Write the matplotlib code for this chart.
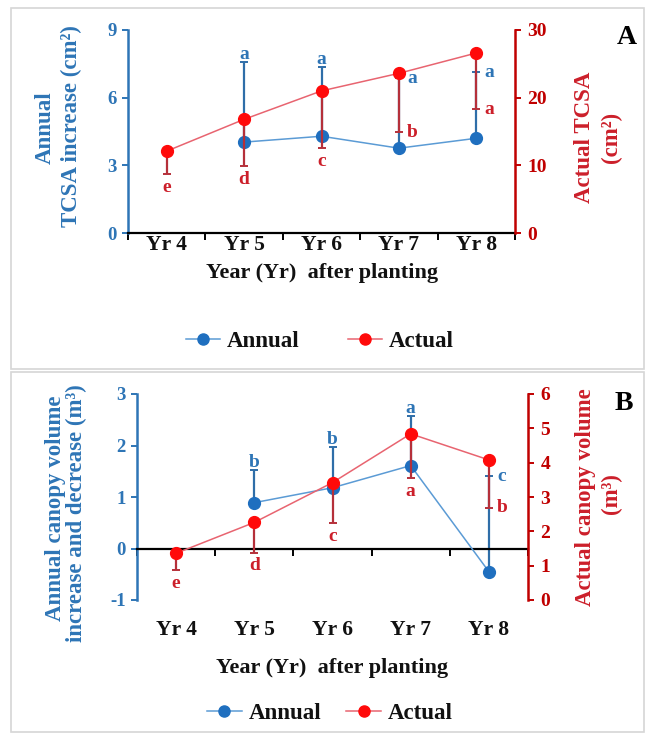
import matplotlib
matplotlib.use("Agg")
import matplotlib.pyplot as plt
from matplotlib.patches import Rectangle
from matplotlib.lines import Line2D
import matplotlib.transforms as mtransforms
import numpy as np

# ---------------- data ----------------
years = ["Yr 4", "Yr 5", "Yr 6", "Yr 7", "Yr 8"]

# Panel A: TCSA
a_annual = [np.nan, 4.03, 4.29, 3.76, 4.20]          # left axis (cm2)
a_annual_up = [np.nan, 7.57, 7.35, 6.85, 7.12]       # upper end of error bar
a_actual = [12.1, 16.8, 21.0, 23.6, 26.6]            # right axis (cm2)
a_actual_lo = [8.7, 9.9, 12.6, 14.9, 18.3]           # lower end of error bar
a_annual_letters = ["", "a", "a", "a", "a"]
a_actual_letters = ["e", "d", "c", "b", "a"]

# Panel B: canopy volume
b_annual = [np.nan, 0.89, 1.18, 1.61, -0.45]         # left axis (m3)
b_annual_up = [np.nan, 1.52, 1.97, 2.57, 1.40]
b_actual = [1.36, 2.26, 3.42, 4.84, 4.08]            # right axis (m3)
b_actual_lo = [0.87, 1.38, 2.25, 3.54, 2.69]
b_annual_letters = ["", "b", "b", "a", "c"]
b_actual_letters = ["e", "d", "c", "a", "b"]

# ---------------- style ----------------
FONT = "Liberation Serif"
BLUE_AX = "#2E75B6"
BLUE_MK = "#1F6FBF"
BLUE_LN = "#5B9BD5"
BLUE_ERR = "#2F6EA8"
RED_AX = "#C00000"
RED_MK = "#FF0A0A"
RED_LN = "#E86470"
RED_ERR = "#B5303A"
RED_TXT = "#CC1F2A"
LABEL_FS = 16.5

plt.rcParams["font.family"] = [FONT, "DejaVu Serif"]
plt.rcParams["font.weight"] = "bold"
plt.rcParams["axes.unicode_minus"] = False

W, H = 646, 733
fig = plt.figure(figsize=(W / 100, H / 100), dpi=100)


def fx(px):
    return px / W


def fy(py):
    return 1 - py / H


# panel frames
fig.patches.append(Rectangle((fx(11), fy(369)), fx(633), 361 / H, transform=fig.transFigure,
                             fill=False, edgecolor="#d6d6d6", lw=1.2))
fig.patches.append(Rectangle((fx(11), fy(732)), fx(633), 360 / H, transform=fig.transFigure,
                             fill=False, edgecolor="#d6d6d6", lw=1.2))


def letter(ax, x, y, s, pos, color):
    if not s:
        return
    if pos == "above":
        off, ha, va = (0, 2.5), "center", "baseline"
    elif pos == "below":
        off, ha, va = (0, -3.5), "center", "top"
    else:
        off, ha, va = (6, 0), "left", "center"
    ax.annotate(s, (x, y), xytext=off, textcoords="offset points", ha=ha, va=va,
                color=color, fontsize=14, fontweight="bold")


def vlabel(px, py, s, color):
    fig.text(fx(px), fy(py), s, rotation=90, ha="center", va="center",
             fontsize=LABEL_FS, fontweight="bold", color=color)


def panel(rect, annual, annual_up, actual, actual_lo, ann_let, act_let,
          ann_pos, act_pos, lylim, lyticks, rylim, ryticks, zero_axis):
    ax = fig.add_axes(rect)
    ax2 = ax.twinx()
    x = np.arange(len(years))
    ann = np.array(annual, float)
    act = np.array(actual, float)
    up = np.array(annual_up, float) - ann
    lo = act - np.array(actual_lo, float)

    ax.errorbar(x, ann, yerr=[np.zeros_like(up), up], fmt="none", ecolor=BLUE_ERR,
                elinewidth=1.6, capsize=3, capthick=1.4, zorder=2)
    ax.plot(x, ann, color=BLUE_LN, lw=1.1, marker="o", ms=8.5, mfc=BLUE_MK,
            mec=BLUE_MK, zorder=3)
    ax2.errorbar(x, act, yerr=[lo, np.zeros_like(lo)], fmt="none", ecolor=RED_ERR,
                 elinewidth=1.6, capsize=3, capthick=1.4, zorder=2)
    ax2.plot(x, act, color=RED_LN, lw=1.1, marker="o", ms=8.5, mfc=RED_MK,
             mec=RED_MK, zorder=3)

    for i in range(len(years)):
        if not np.isnan(ann[i]):
            letter(ax, x[i], annual_up[i], ann_let[i], ann_pos[i], BLUE_AX)
        letter(ax2, x[i], actual_lo[i], act_let[i], act_pos[i], RED_TXT)

    ax.set_xlim(-0.5, len(years) - 0.5)
    ax.set_ylim(*lylim)
    ax.set_yticks(lyticks)
    ax2.set_ylim(*rylim)
    ax2.set_yticks(ryticks)

    ax.set_xticks(np.arange(len(years) + 1) - 0.5)
    ax.set_xticklabels([])
    ax.tick_params(axis="x", which="major", length=5, width=1.4, color="black",
                   direction="out")
    ax.tick_params(axis="y", length=4, width=1.4, color=BLUE_AX, labelcolor=BLUE_AX,
                   labelsize=13.5, pad=4)
    ax2.tick_params(axis="y", length=4, width=1.4, color=RED_AX, labelcolor=RED_AX,
                    labelsize=14, pad=5)
    for lab in ax.get_yticklabels() + ax2.get_yticklabels():
        lab.set_fontweight("bold")

    for sp in ("top", "right"):
        ax.spines[sp].set_visible(False)
    for sp in ("top", "left", "bottom"):
        ax2.spines[sp].set_visible(False)
    ax.spines["left"].set_color(BLUE_AX)
    ax.spines["left"].set_linewidth(1.8)
    ax.spines["bottom"].set_color("black")
    ax.spines["bottom"].set_linewidth(1.6)
    ax2.spines["right"].set_color(RED_AX)
    ax2.spines["right"].set_linewidth(1.8)
    if zero_axis:
        ax.spines["bottom"].set_position(("data", 0))
    ax.patch.set_visible(False)

    trans = mtransforms.blended_transform_factory(ax.transData, ax.transAxes)
    return ax, ax2, trans


# ---------------- Panel A ----------------
axA, axA2, trA = panel([fx(128), fy(233), fx(515) - fx(128), (233 - 30) / H],
                       a_annual, a_annual_up, a_actual, a_actual_lo,
                       a_annual_letters, a_actual_letters,
                       ["above", "above", "above", "right", "right"],
                       ["below", "below", "below", "right", "right"],
                       (0, 9), [0, 3, 6, 9], (0, 30), [0, 10, 20, 30], False)
for i, yr in enumerate(years):
    axA.text(i, -0.06, yr, transform=trA, ha="center", va="center", fontsize=15.5,
             fontweight="bold", color="#111111")
fig.text(fx(322), fy(273), "Year (Yr)  after planting", ha="center", va="center",
         fontsize=16, fontweight="bold", color="#111111")
vlabel(45, 128, "Annual", BLUE_AX)
vlabel(71, 126, "TCSA increase (cm²)", BLUE_AX)
vlabel(584, 137, "Actual TCSA", RED_TXT)
vlabel(611, 137, "(cm²)", RED_TXT)
fig.text(fx(627), fy(37), "A", ha="center", va="center", fontsize=20,
         fontweight="bold", color="black")

# ---------------- Panel B ----------------
axB, axB2, trB = panel([fx(137), fy(600), fx(528) - fx(137), (600 - 394) / H],
                       b_annual, b_annual_up, b_actual, b_actual_lo,
                       b_annual_letters, b_actual_letters,
                       ["above", "above", "above", "above", "right"],
                       ["below", "below", "below", "below", "right"],
                       (-1, 3), [-1, 0, 1, 2, 3], (0, 6), [0, 1, 2, 3, 4, 5, 6], True)
for i, yr in enumerate(years):
    axB.text(i, -0.146, yr, transform=trB, ha="center", va="center", fontsize=15.5,
             fontweight="bold", color="#111111")
fig.text(fx(332), fy(668), "Year (Yr)  after planting", ha="center", va="center",
         fontsize=16, fontweight="bold", color="#111111")
vlabel(55, 508, "Annual canopy volume", BLUE_AX)
vlabel(76, 513, "increase and decrease (m³)", BLUE_AX)
vlabel(586, 497, "Actual canopy volume", RED_TXT)
vlabel(611, 494, "(m³)", RED_TXT)
fig.text(fx(624), fy(403), "B", ha="center", va="center", fontsize=20,
         fontweight="bold", color="black")

# ---------------- legends ----------------
handles = [Line2D([], [], color=BLUE_LN, lw=1.1, marker="o", ms=8, mfc=BLUE_MK, mec=BLUE_MK),
           Line2D([], [], color=RED_LN, lw=1.1, marker="o", ms=8, mfc=RED_MK, mec=RED_MK)]
labels = ["Annual", "Actual"]
legA = fig.legend(handles, labels, loc="center", bbox_to_anchor=(fx(320), fy(341)), ncol=2,
                  frameon=False, handlelength=1.5, handletextpad=0.3, columnspacing=2.1,
                  prop={"family": FONT, "weight": "bold", "size": 16.5})
legB = fig.legend(handles, labels, loc="center", bbox_to_anchor=(fx(330), fy(713)), ncol=2,
                  frameon=False, handlelength=1.5, handletextpad=0.3, columnspacing=1.1,
                  prop={"family": FONT, "weight": "bold", "size": 16.5})
for leg in (legA, legB):
    for t in leg.get_texts():
        t.set_color("#111111")

fig.savefig("out.png", dpi=100)
